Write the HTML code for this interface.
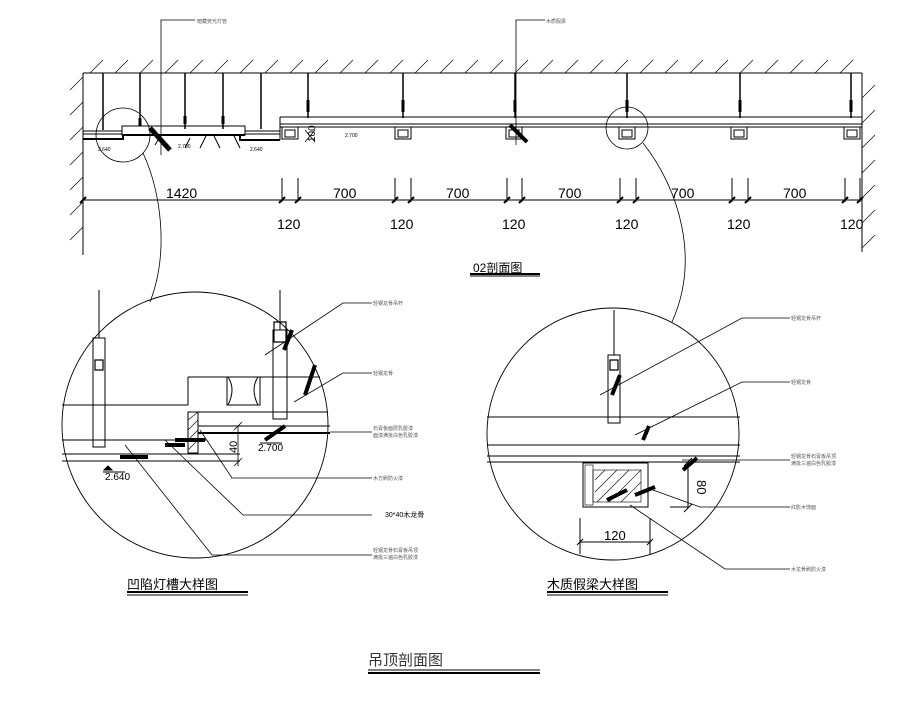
<!DOCTYPE html>
<html><head><meta charset="utf-8"><style>
html,body{margin:0;padding:0;background:#fff;}
svg{display:block;}
text{font-family:"Liberation Sans","Noto Sans CJK SC",sans-serif;}
</style></head><body>
<svg width="903" height="715" viewBox="0 0 903 715" xmlns="http://www.w3.org/2000/svg">
<g stroke="#000" stroke-width="1" fill="none">
<!-- ceiling slab -->
<line x1="83" y1="73" x2="862" y2="73"/>
<line x1="83" y1="73" x2="83" y2="255"/>
<line x1="862" y1="73" x2="862" y2="252"/>
<g stroke-width="0.7">
<path d="M90 73l13-13M115 73l13-13M140 73l13-13M165 73l13-13M190 73l13-13M215 73l13-13M240 73l13-13M265 73l13-13M290 73l13-13M315 73l13-13M340 73l13-13M365 73l13-13M390 73l13-13M415 73l13-13M440 73l13-13M465 73l13-13M490 73l13-13M515 73l13-13M540 73l13-13M565 73l13-13M590 73l13-13M615 73l13-13M640 73l13-13M665 73l13-13M690 73l13-13M715 73l13-13M740 73l13-13M765 73l13-13M790 73l13-13M815 73l13-13M840 73l13-13"/>
<path d="M70 90l13-13M70 115l13-13M70 140l13-13M70 165l13-13M70 190l13-13M70 215l13-13M70 240l13-13"/>
<path d="M862 98l13-13M862 123l13-13M862 148l13-13M862 173l13-13M862 198l13-13M862 223l13-13M862 248l13-13"/>
</g>
<!-- hangers -->
<g stroke-width="1.5">
<path d="M103 73v57M140 73v52M185 73v56M223 73v56M261 73v56"/>
<path d="M308 73v45M403 73v45M515 73v45M627 73v45M740 73v45M851 73v45"/>
</g>
<g stroke-width="3">
<path d="M308 100v12M403 100v12M515 100v12M627 100v12M740 100v12M851 100v12M140 118v8M185 116v8M223 116v8"/>
</g>
<!-- right ceiling -->
<line x1="280" y1="117" x2="862" y2="117"/>
<line x1="280" y1="124" x2="862" y2="124"/>
<line x1="280" y1="127" x2="862" y2="127"/>
<line x1="280" y1="117" x2="280" y2="140"/>
<g>
<rect x="282" y="127" width="16" height="12"/><rect x="285" y="130" width="10" height="7"/>
<rect x="395" y="127" width="16" height="12"/><rect x="398" y="130" width="10" height="7"/>
<rect x="506" y="127" width="16" height="12"/><rect x="509" y="130" width="10" height="7"/>
<rect x="619" y="127" width="16" height="12"/><rect x="622" y="130" width="10" height="7"/>
<rect x="731" y="127" width="16" height="12"/><rect x="734" y="130" width="10" height="7"/>
<rect x="844" y="127" width="16" height="12"/><rect x="847" y="130" width="10" height="7"/>
</g>
<!-- left section -->
<line x1="83" y1="131" x2="122" y2="131"/>
<line x1="83" y1="134" x2="122" y2="134"/>
<rect x="122" y="126" width="123" height="9"/>
<line x1="122" y1="135" x2="245" y2="135" stroke-width="2"/>
<line x1="245" y1="131" x2="280" y2="131"/>
<line x1="245" y1="134" x2="280" y2="134"/>
<path d="M83 139h40v-4M240 135v5h40" stroke-width="2"/>
<path d="M155 145l6-10M200 148l6-12M220 148l-6-12M240 148l-6-12M185 148l5-10"/>
<line x1="150" y1="128" x2="170" y2="150" stroke-width="5"/>
<line x1="510" y1="125" x2="527" y2="142" stroke-width="4"/>
<!-- leaders top -->
<polyline points="161,155 161,20 195,20" stroke-width="0.8"/>
<polyline points="516,145 516,20 545,20" stroke-width="0.8"/>
<path d="M305 130l10 12M305 142l10-12" stroke-width="0.8"/>
<!-- small circles -->
<circle cx="123" cy="135" r="27" stroke-width="0.8"/>
<circle cx="627" cy="128" r="21" stroke-width="0.8"/>
<path d="M143 153 C 160 190, 170 250, 150 302" stroke-width="0.8"/>
<path d="M643 143 C 680 190, 700 260, 672 322" stroke-width="0.8"/>
<!-- dimension line -->
<line x1="83" y1="200" x2="862" y2="200"/>
<path d="M282 178v24M298 178v24M395 178v24M411 178v24M507 178v24M522 178v24M620 178v24M636 178v24M732 178v24M748 178v24M845 178v24M860 178v24"/>
<g stroke-width="2"><path d="M80 203l6-6M279 203l6-6M295 203l6-6M392 203l6-6M408 203l6-6M504 203l6-6M519 203l6-6M617 203l6-6M633 203l6-6M729 203l6-6M745 203l6-6M842 203l6-6M857 203l6-6"/></g>
<line x1="470" y1="274" x2="540" y2="274" stroke-width="2"/>
<line x1="470" y1="276" x2="540" y2="276" stroke-width="1"/>

<!-- LEFT DETAIL -->
<circle cx="195" cy="425" r="133" stroke-width="0.9"/>
<path d="M62 405H188M62 440H207M62 454H240M62 461H240" />
<path d="M188 377H320M188 377V405M188 412H328M198 426H330"/>
<line x1="198" y1="433" x2="330" y2="433" stroke-width="2"/>
<rect x="188" y="412" width="10" height="41"/>
<path d="M188 420l10-8M188 430l10-10M188 440l10-10M188 450l10-10" stroke-width="0.6"/>
<path d="M227 377v28h33v-28M228 377q8 12 0 28M258 377q-8 12 0 28"/>
<rect x="93" y="338" width="12" height="109"/>
<rect x="273" y="330" width="14" height="89"/>
<path d="M99 290v48M280 290v40"/>
<path d="M95 360h8v10h-8zM274 322h12v20h-12z" stroke-width="1.2"/>
<path d="M175 440h30M165 445h20M120 457h28" stroke-width="4"/>
<path d="M284 350l8-20M305 395l10-30M265 440l20-14" stroke-width="4"/>
<path d="M238 426v40M234 430l8-8M234 466l8-8" stroke-width="0.8"/>
<path d="M260 443h22" stroke-width="1"/>
<polygon points="108,466 104,470 112,470" fill="#000"/>
<path d="M103 472h22"/>
<g stroke-width="0.8">
<polyline points="265,355 343,303 372,303"/>
<polyline points="294,402 343,373 372,373"/>
<path d="M330 432H372"/>
<polyline points="200,430 232,478 372,478"/>
<polyline points="165,440 243,515 372,515"/>
<polyline points="125,445 212,555 372,555"/>
</g>
<line x1="127" y1="592" x2="248" y2="592" stroke-width="2"/>
<line x1="127" y1="595" x2="248" y2="595" stroke-width="1"/>

<!-- RIGHT DETAIL -->
<circle cx="613" cy="434" r="126" stroke-width="0.9"/>
<path d="M487 417H740M487 445H740M487 456H740M487 462H740"/>
<rect x="608" y="355" width="12" height="68"/>
<path d="M614 310v45"/>
<path d="M610 360h8v10h-8z" stroke-width="1.2"/>
<rect x="583" y="463" width="65" height="44"/>
<rect x="585" y="465" width="8" height="40" stroke-width="0.6"/>
<rect x="593" y="470" width="48" height="32" stroke-width="0.6"/>
<path d="M595 480l10-10M595 492l22-22M597 502l32-32M609 502l32-32M621 502l20-20" stroke-width="0.6"/>
<path d="M612 395l8-20M643 440l6-14M697 458l-14 12M635 495l20-8M607 500l20-10" stroke-width="4"/>
<path d="M688 462v46M684 466l8-8M684 512l8-8M670 507h18"/>
<path d="M580 518v36M650 518v36M580 542h70M577 545l6-6M647 545l6-6"/>
<g stroke-width="0.8">
<polyline points="600,395 742,318 790,318"/>
<polyline points="635,435 742,382 790,382"/>
<path d="M682 460H790"/>
<polyline points="653,490 700,507 790,507"/>
<polyline points="630,505 725,569 790,569"/>
</g>
<line x1="547" y1="592" x2="668" y2="592" stroke-width="2"/>
<line x1="547" y1="595" x2="668" y2="595" stroke-width="1"/>

<line x1="368" y1="670" x2="540" y2="670" stroke-width="1"/>
<line x1="368" y1="673" x2="540" y2="673" stroke-width="2"/>
</g>

<g fill="#000">
<text x="166" y="198" font-size="14">1420</text>
<text x="333" y="198" font-size="14">700</text>
<text x="446" y="198" font-size="14">700</text>
<text x="558" y="198" font-size="14">700</text>
<text x="671" y="198" font-size="14">700</text>
<text x="783" y="198" font-size="14">700</text>
<text x="277" y="229" font-size="14">120</text>
<text x="390" y="229" font-size="14">120</text>
<text x="502" y="229" font-size="14">120</text>
<text x="615" y="229" font-size="14">120</text>
<text x="727" y="229" font-size="14">120</text>
<text x="840" y="229" font-size="14">120</text>
<text x="473" y="272" font-size="12">02剖面图</text>
<text x="98" y="151" font-size="5">2.640</text>
<text x="178" y="148" font-size="5">2.700</text>
<text x="250" y="151" font-size="5">2.640</text>
<text x="345" y="137" font-size="5">2.700</text>
<text x="315" y="142" font-size="10" transform="rotate(-90 315 142)">100</text>
<text x="197" y="23" font-size="5" fill="#555">暗藏荧光灯管</text>
<text x="546" y="23" font-size="5" fill="#555">木质假梁</text>
<text x="258" y="451" font-size="10">2.700</text>
<text x="105" y="480" font-size="10">2.640</text>
<text x="237" y="453" font-size="11" transform="rotate(-90 237 453)">40</text>
<g font-size="5" fill="#555">
<text x="373" y="305">轻钢龙骨吊杆</text>
<text x="373" y="375">轻钢龙骨</text>
<text x="373" y="430">石膏板面层乳胶漆</text>
<text x="373" y="437">面漆满批白色乳胶漆</text>
<text x="373" y="480">木方刷防火漆</text>
<text x="385" y="517" fill="#000" font-size="7">30*40木龙骨</text>
<text x="373" y="552">轻钢龙骨石膏板吊顶</text>
<text x="373" y="559">满批三遍白色乳胶漆</text>
<text x="791" y="320">轻钢龙骨吊杆</text>
<text x="791" y="384">轻钢龙骨</text>
<text x="791" y="458">轻钢龙骨石膏板吊顶</text>
<text x="791" y="465">满批三遍白色乳胶漆</text>
<text x="791" y="509">红影木饰面</text>
<text x="791" y="571">木龙骨刷防火漆</text>
</g>
<text x="604" y="540" font-size="13">120</text>
<text x="697" y="480" font-size="13" transform="rotate(90 697 480)">80</text>
<text x="127" y="589" font-size="13">凹陷灯槽大样图</text>
<text x="547" y="589" font-size="13">木质假梁大样图</text>
<text x="368" y="665" font-size="15" fill="#333">吊顶剖面图</text>
</g>
</svg>
</body></html>
